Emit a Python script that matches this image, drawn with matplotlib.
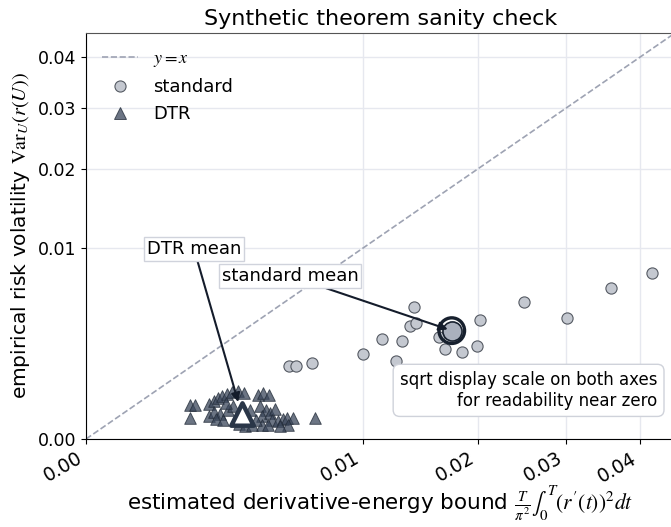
import numpy as np
import matplotlib
matplotlib.use("Agg")
import matplotlib.pyplot as plt
from matplotlib.lines import Line2D

plt.rcParams['mathtext.fontset'] = 'stix'

# --- données ---
std_x = [0.04176, 0.03588, 0.02504, 0.03015, 0.02020, 0.01996, 0.01839, 0.01677, 0.01627, 0.01400,
         0.01371, 0.01422, 0.01304, 0.01142, 0.01002, 0.01252, 0.00539, 0.00575, 0.00666]
std_y = [0.00755, 0.00628, 0.00512, 0.00399, 0.00388, 0.00237, 0.00209, 0.00220, 0.00287, 0.00475,
         0.00350, 0.00367, 0.00265, 0.00272, 0.00197, 0.00168, 0.00147, 0.00147, 0.00160]

dtr_x = [0.001410, 0.001548, 0.001410, 0.001972, 0.002135, 0.002271, 0.002411, 0.002591, 0.002778,
         0.003011, 0.003254, 0.001972, 0.002135, 0.002340, 0.002203, 0.002446, 0.002628, 0.002816,
         0.002554, 0.003051, 0.003295, 0.003856, 0.004083, 0.004365, 0.003946, 0.004223, 0.004037,
         0.004413, 0.004655, 0.004509, 0.004804, 0.005058, 0.005265, 0.005585, 0.005318, 0.006835,
         0.003591, 0.004037, 0.004317, 0.004905, 0.003767, 0.003505]
dtr_y = [0.000317, 0.000317, 0.000121, 0.000336, 0.000396, 0.000461, 0.000507, 0.000555, 0.000606,
         0.000632, 0.000580, 0.000145, 0.000200, 0.000171, 0.000110, 0.000099, 0.000231, 0.000299,
         0.000355, 0.000062, 0.000046, 0.000531, 0.000580, 0.000531, 0.000299, 0.000231, 0.000145,
         0.000185, 0.000247, 0.000099, 0.000089, 0.000110, 0.000121, 0.000121, 0.000054, 0.000121,
         0.000054, 0.000054, 0.000054, 0.000046, 0.000099, 0.000231]

std_mean = (0.01743, 0.00322)
dtr_mean = (0.00316, 0.000171)

lim = 0.0452
ticks = [0.0, 0.01, 0.02, 0.03, 0.04]
diag = [0.0, 0.05]


def fwd(v):
    return np.sqrt(np.clip(v, 0, None))


def inv(v):
    return np.asarray(v) ** 2


fig = plt.figure(figsize=(6.71, 5.27), dpi=100)
ax = fig.add_axes([86 / 671, 88 / 527, 589 / 671, 406 / 527])
ax.set_xscale('function', functions=(fwd, inv))
ax.set_yscale('function', functions=(fwd, inv))

ax.plot(diag, diag, ls='--', color='#9ea3b3', lw=1.2, zorder=2)
ax.scatter(std_x, std_y, s=65, marker='o', facecolor='#c4c8d0', edgecolor='#555a63', lw=0.8, zorder=3)
ax.scatter(dtr_x, dtr_y, s=70, marker='^', facecolor='#3b475b', edgecolor='#222b38', lw=0.7,
           alpha=0.75, zorder=3)

# moyennes
ax.scatter([std_mean[0]], [std_mean[1]], s=340, marker='o', facecolor='none', edgecolor='#17202e',
           lw=2.4, zorder=5)
ax.scatter([std_mean[0]], [std_mean[1]], s=190, marker='o', facecolor='#aab0bd', edgecolor='#17202e',
           lw=1.2, zorder=5)
ax.scatter([dtr_mean[0]], [dtr_mean[1]], s=260, marker='^', facecolor='white', edgecolor='#2a3648',
           lw=3.2, zorder=5)

box = dict(boxstyle='square,pad=0.15', facecolor='white', edgecolor='#d0d3dc', lw=1)
ax.annotate('DTR mean', xy=dtr_mean, xytext=(0.00152, 0.009895), fontsize=13, ha='center', va='center',
            bbox=box, arrowprops=dict(arrowstyle='-|>', color='#141c2b', lw=1.5, shrinkA=0, shrinkB=9),
            zorder=6)
ax.annotate('standard mean', xy=std_mean, xytext=(0.005424, 0.007283), fontsize=13, ha='center',
            va='center', bbox=box,
            arrowprops=dict(arrowstyle='-|>', color='#141c2b', lw=1.5, shrinkA=0, shrinkB=3), zorder=6)

ax.text(0.97, 0.072, 'sqrt display scale on both axes\nfor readability near zero', transform=ax.transAxes,
        ha='right', va='bottom', fontsize=12, multialignment='right', zorder=6,
        bbox=dict(boxstyle='round,pad=0.4', facecolor='white', edgecolor='#cfd2da', lw=1))

ax.set_xlim(0, lim)
ax.set_ylim(0, lim)
ax.set_xticks(ticks)
ax.set_yticks(ticks)
ax.set_xticklabels([f"{t:.2f}" for t in ticks], rotation=30, ha='right', fontsize=13.5)
ax.set_yticklabels([f"{t:.2f}" for t in ticks], fontsize=12.5)
ax.grid(True, color='#e6e8ef', lw=1)
ax.set_axisbelow(True)
for side in ['top', 'right']:
    ax.spines[side].set_color('#555555')

ax.set_title('Synthetic theorem sanity check', fontsize=16)
ax.set_xlabel(r"estimated derivative-energy bound $\frac{T}{\pi^2}\int_0^T (r'(t))^2 dt$", fontsize=15.5)
ax.set_ylabel(r"empirical risk volatility $\mathrm{Var}_U(r(U))$", fontsize=14.5)
ax.xaxis.set_label_coords(0.5, -0.11)

handles = [
    Line2D([], [], ls='--', color='#9ea3b3', lw=1.2, label='$y=x$'),
    Line2D([], [], ls='', marker='o', markersize=8, markerfacecolor='#c4c8d0', markeredgecolor='#555a63',
           markeredgewidth=0.8, label='standard'),
    Line2D([], [], ls='', marker='^', markersize=8.5, markerfacecolor='#3b475b', markeredgecolor='#222b38',
           markeredgewidth=0.7, alpha=0.75, label='DTR'),
]
ax.legend(handles=handles, loc='upper left', frameon=False, fontsize=13)

fig.savefig('out.png', dpi=100)
